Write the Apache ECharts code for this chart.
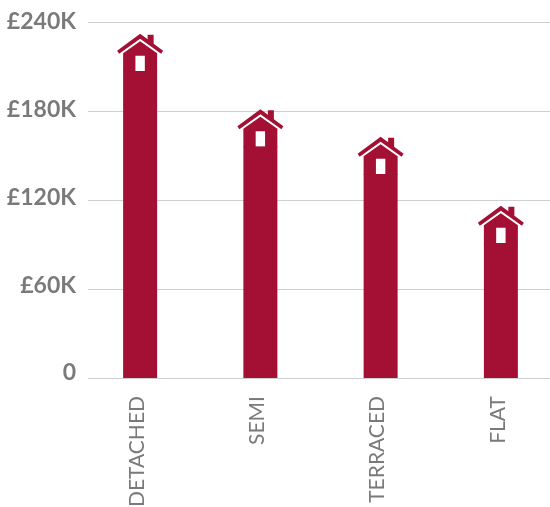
<!DOCTYPE html>
<html>
<head>
<meta charset="utf-8">
<style>html,body{margin:0;padding:0;background:#fff}#chart{width:550px;height:507px}</style>
<script src="https://cdn.jsdelivr.net/npm/echarts@6/dist/echarts.min.js"></script>
</head>
<body>
<div id="chart"></div>
<script>
const categories = ['DETACHED', 'SEMI', 'TERRACED', 'FLAT'];
const prices = [207000, 156000, 137500, 91000];
const tickStep = 60000;
const tickMax = 240000;
// the reference's y labels drift a few px above their gridlines towards the bottom
const labelLift = { 0: 11, 60: 6, 120: 4, 180: 2, 240: 0 };

// roof, chimney, walls; window wound the other way so it stays open
const house = 'path://M23 0L30.5 5.5L30.5 1L36.5 1L36.5 10L46 17L44 20L23 5L2 20L0 17Z' +
  'M23 7.5L40 19.5L40 38L6 38L6 19.5Z' +
  'M18.3 22L18.3 37.5L27.7 37.5L27.7 22Z';

const grey = '#7a7a7a';
const rich = {};
Object.keys(labelLift).forEach(k => {
  rich['t' + k] = {
    color: grey,
    fontFamily: 'Lato',
    fontWeight: 'bold',
    fontSize: 23,
    padding: [0, 0, labelLift[k], 0]
  };
});

const chart = echarts.init(document.getElementById('chart'));

chart.setOption({
  animation: false,
  grid: [
    { left: 88, right: 0, top: 22, bottom: 129 },
    // bars sit on a band that runs past the right edge
    { left: 80, width: 481, top: 22, bottom: 129, outerBoundsMode: 'none' }
  ],
  xAxis: [
    { type: 'category', gridIndex: 0, data: categories, show: false },
    {
      type: 'category',
      gridIndex: 1,
      data: categories,
      axisLine: { show: false },
      axisTick: { show: false },
      axisLabel: {
        rotate: 90,
        margin: 18,
        interval: 0,
        formatter: '{c|{value}}',
        rich: {
          c: {
            color: grey,
            fontFamily: 'Lato',
            fontSize: 21,
            padding: [0, 0, 6, 0]
          }
        }
      }
    }
  ],
  yAxis: [
    {
      type: 'value',
      gridIndex: 0,
      min: 0,
      max: tickMax,
      interval: tickStep,
      axisLine: { show: false },
      axisTick: { show: false },
      splitLine: { lineStyle: { color: '#cfcfcf', width: 1 } },
      axisLabel: {
        margin: 12,
        rich: rich,
        formatter: v => {
          const k = v / 1000;
          return '{t' + k + '|' + (v === 0 ? '0' : '£' + k + 'K') + '}';
        }
      }
    },
    { type: 'value', gridIndex: 1, min: 0, max: tickMax, interval: tickStep, show: false }
  ],
  series: [
    {
      type: 'bar',
      xAxisIndex: 1,
      yAxisIndex: 1,
      data: prices,
      barWidth: 34,
      itemStyle: { color: '#a31033' }
    },
    {
      type: 'pictorialBar',
      xAxisIndex: 1,
      yAxisIndex: 1,
      data: prices,
      symbol: house,
      symbolSize: [46, 38],
      symbolKeepAspect: false,
      symbolPosition: 'end',
      symbolOffset: [0, '-98%'],
      itemStyle: { color: '#a31033' },
      z: 3
    }
  ]
});
</script>
</body>
</html>
